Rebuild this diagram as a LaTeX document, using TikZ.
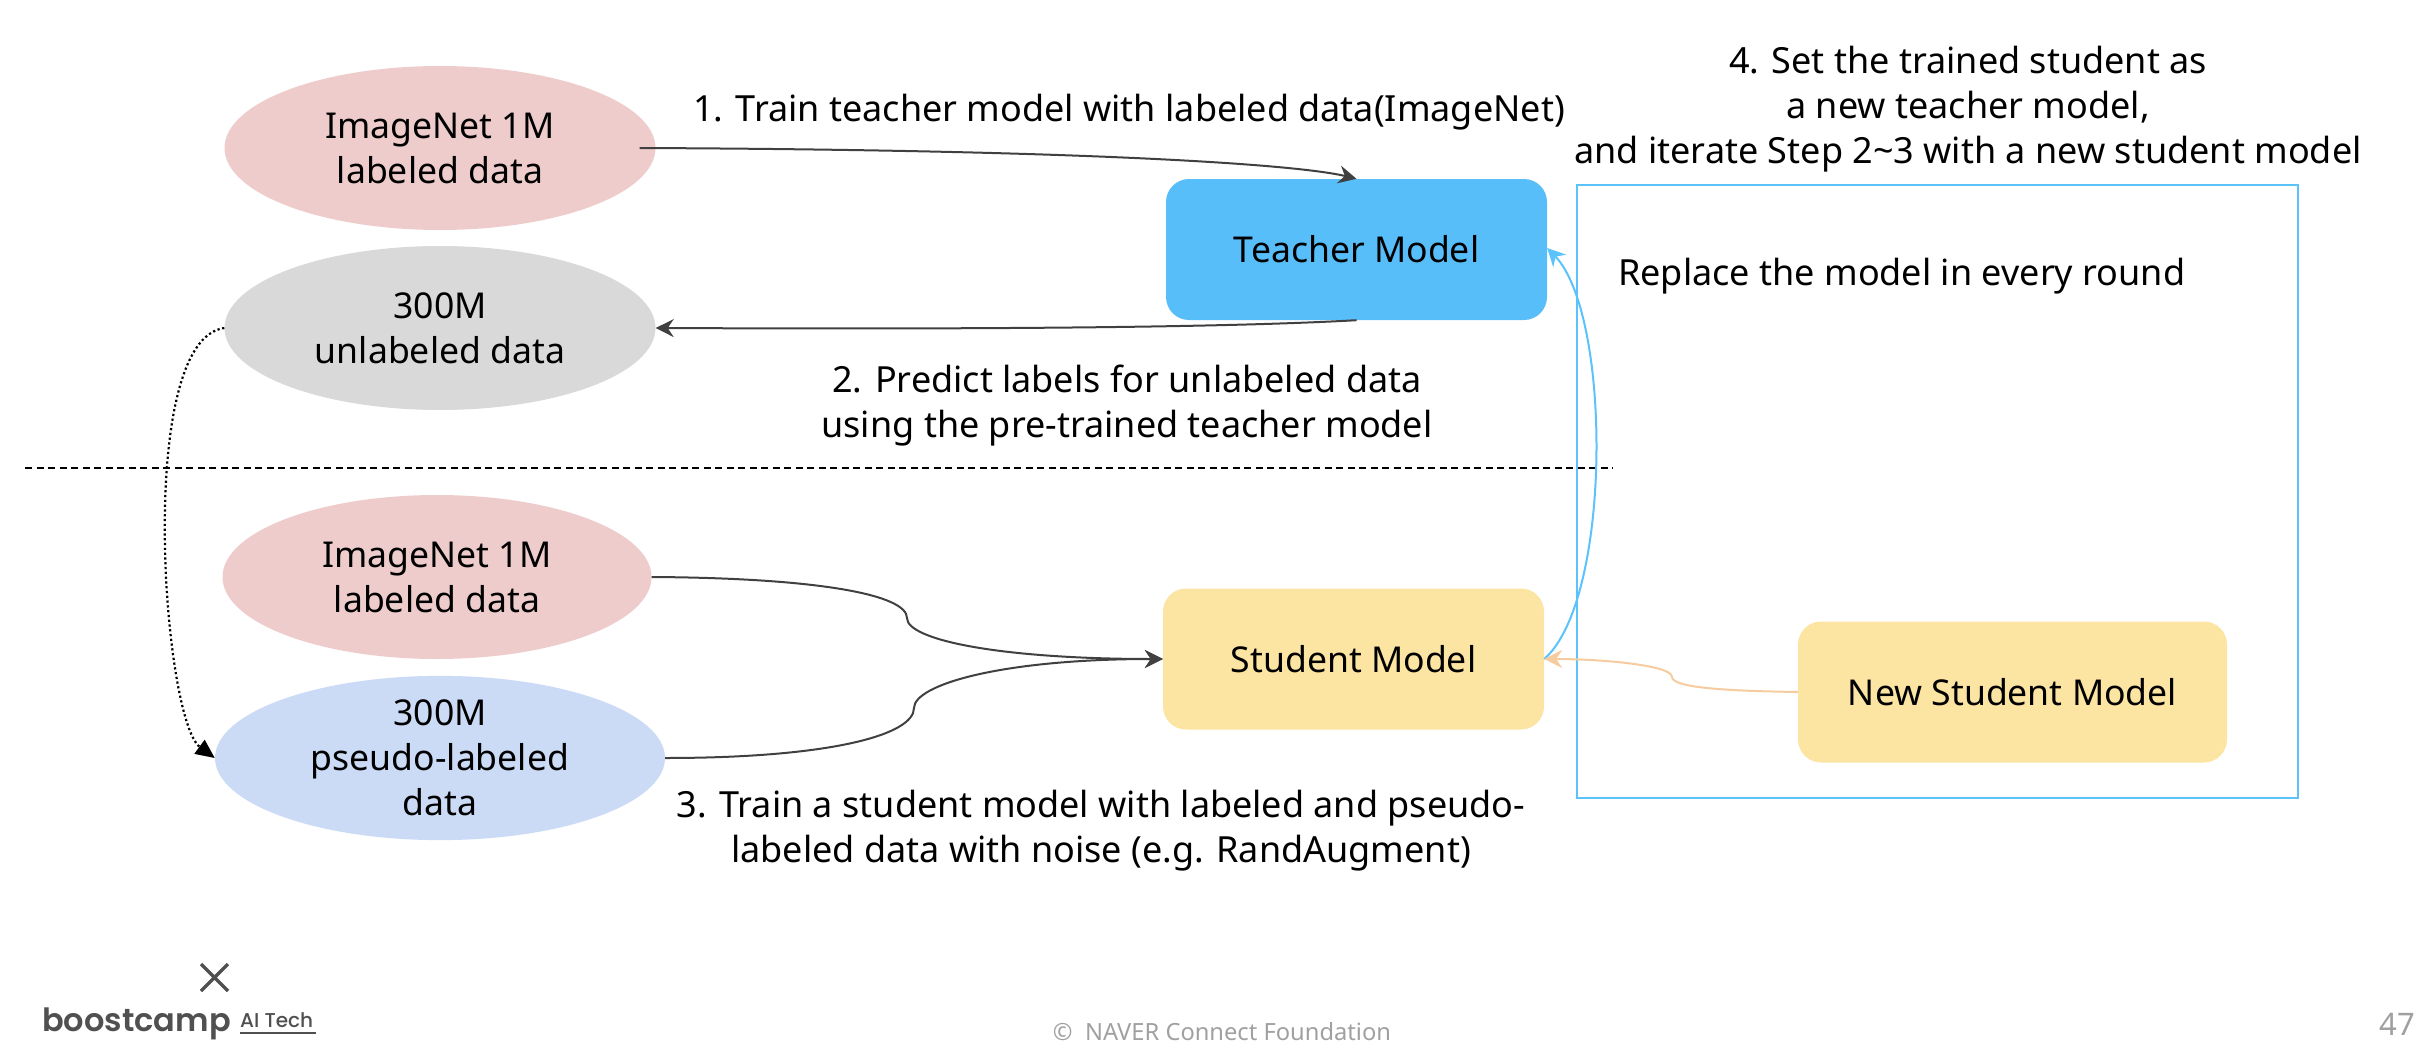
\documentclass[tikz,border=0pt]{standalone}
\usepackage{fontspec}
\setmainfont{Noto Sans}
\newfontfamily\logofont[UprightFont=* SemiBold]{Poppins}
\newfontfamily\logolight[UprightFont=* Medium]{Poppins}
\usetikzlibrary{shapes.geometric,arrows.meta}
\definecolor{pinkfill}{HTML}{EFCCCC}
\definecolor{grayfill}{HTML}{D9D9D9}
\definecolor{bluefill}{HTML}{CBDAF5}
\definecolor{yellowfill}{HTML}{FCE4A2}
\definecolor{teacherfill}{HTML}{57BEFA}
\definecolor{skyline}{HTML}{5BC2FB}
\definecolor{orangeline}{HTML}{F6CBA0}
\definecolor{darkline}{HTML}{404040}
\definecolor{logogray}{HTML}{505050}
\definecolor{footgray}{HTML}{A0A0A0}
\tikzset{
  x=1pt,y=-1pt,
  txt/.style={font=\fontsize{35.6}{45}\selectfont,align=center,inner sep=0pt,text=black},
  labeltxt/.style={font=\fontsize{36}{45}\selectfont,align=center,inner sep=0pt,text=black},
  blob/.style={shape=ellipse,txt,minimum height=164pt,draw=none},
  modelbox/.style={shape=rectangle,txt,rounded corners=23pt,minimum height=141pt,minimum width=381pt,draw=none},
  darkarrow/.style={draw=darkline,line width=2pt,-{Stealth[length=18pt,width=18pt,inset=6pt]}},
  skyarrow/.style={draw=skyline,line width=2pt,-{Stealth[length=18pt,width=18pt,inset=6pt]}},
  orangearrow/.style={draw=orangeline,line width=2pt,-{Stealth[length=18pt,width=18pt,inset=6pt]}},
  dotarrow/.style={draw=black,line width=2.2pt,dash pattern=on 2.2pt off 2.6pt,-{Triangle[length=19pt,width=17pt]}},
}
\begin{document}
\begin{tikzpicture}
\useasboundingbox (0,0) rectangle (2426,1062);
% frame
\node[shape=rectangle,draw=skyline,line width=2.6pt,minimum width=721pt,minimum height=613pt,inner sep=0pt] (frame) at (1937.5,491.5) {};
% ellipses
\node[blob,fill=pinkfill,minimum width=431pt] (img1) at (440,148) {ImageNet 1M\\labeled data};
\node[blob,fill=grayfill,minimum width=431pt] (unl) at (440,328) {300M\\unlabeled data};
\node[blob,fill=pinkfill,minimum width=429pt] (img2) at (437,577) {ImageNet 1M\\labeled data};
\node[blob,fill=bluefill,minimum width=450pt] (pseudo) at (440,758) {300M\\pseudo-labeled\\data};
% boxes
\node[modelbox,fill=teacherfill] (teacher) at (1356.5,249.5) {Teacher Model};
\node[modelbox,fill=yellowfill] (student) at (1353.5,659) {Student Model};
\node[modelbox,fill=yellowfill,minimum width=429pt] (newstudent) at (2012.5,692) {New Student Model};
% labels
\node[labeltxt] (l1) at (1129,112) {1. Train teacher model with labeled data(ImageNet)};
\node[labeltxt] (l2) at (1127,405.5) {2. Predict labels for unlabeled data\\using the pre-trained teacher model};
\node[labeltxt] (l3) at (1101,830.5) {3. Train a student model with labeled and pseudo-\\labeled data with noise (e.g. RandAugment)};
\node[labeltxt] (l4) at (1968,109) {4. Set the trained student as\\a new teacher model,\\and iterate Step 2\textasciitilde3 with a new student model};
\node[labeltxt,anchor=west] (l5) at (1618,276) {Replace the model in every round};
% dashed
\coordinate (dl) at (25,468);
\coordinate (dr) at (1613,468);
\draw[black,line width=2pt,dash pattern=on 7pt off 4.5pt] (dl) -- (dr);
% connectors
\draw[darkarrow] ([xshift=-16pt]img1.east) .. controls (1100,150) and (1300,165) .. (teacher.north);
\draw[darkarrow] (teacher.south) .. controls (1200,329) and (900,329) .. (unl.east);
\draw[dotarrow] (unl.west) .. controls (135,340) and (163,720) .. (pseudo.west);
\draw[darkarrow] (img2.east) .. controls (820,578) and (907,595) .. (907,618) .. controls (907,640) and (1000,659) .. (student.west);
\draw[darkarrow] (pseudo.east) .. controls (830,758) and (914,735) .. (914,708) .. controls (914,685) and (1000,659) .. (student.west);
\draw[skyarrow] (student.east) .. controls (1612,600) and (1612,315) .. ([yshift=1.5pt]teacher.east);
\draw[orangearrow] (newstudent.west) .. controls (1730,691) and (1672,688) .. (1672,677) .. controls (1672,665) and (1600,659) .. (student.east);
% logo
\coordinate (xa) at (201,964);
\coordinate (xb) at (228,991);
\coordinate (xc) at (228,964);
\coordinate (xd) at (201,991);
\draw[logogray,line width=3.4pt] (xa) -- (xb) (xc) -- (xd);
\node[anchor=base west,inner sep=0pt,text=logogray,font=\logofont\fontsize{32}{33}\selectfont] (logo) at (42,1031) {boostcamp};
\node[anchor=base west,inner sep=0pt,text=logogray,font=\logolight\fontsize{20}{20}\selectfont] (aitech) at (240,1027) {AI Tech};
\coordinate (ua) at (240,1033);
\coordinate (ub) at (316,1033);
\draw[logogray,line width=2pt] (ua) -- (ub);
% footer
\node[inner sep=0pt,text=footgray,font=\fontsize{23.7}{24}\selectfont] (foot) at (1222,1032) {\textcopyright\ \ NAVER Connect Foundation};
\node[inner sep=0pt,text=footgray,font=\fontsize{31}{31}\selectfont] (page) at (2397,1024) {47};
\end{tikzpicture}
\end{document}
